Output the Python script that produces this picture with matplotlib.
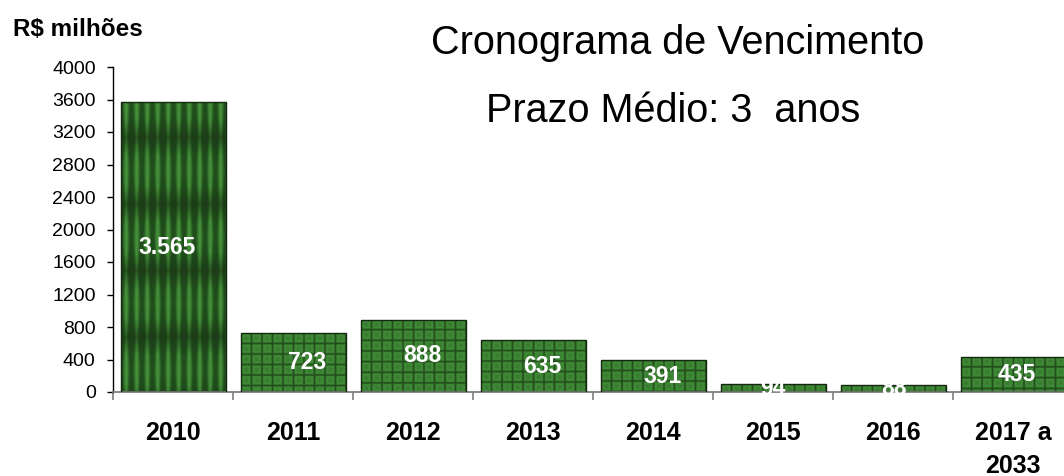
import numpy as np
import matplotlib
matplotlib.use("Agg")
import matplotlib.pyplot as plt
from matplotlib.colors import to_rgb

plt.rcParams['font.family'] = ['Liberation Sans', 'DejaVu Sans']

categories = ["2010", "2011", "2012", "2013", "2014", "2015", "2016", "2017 a\n2033"]
values = [3565, 723, 888, 635, 391, 94, 88, 435]
value_labels = ["3.565", "723", "888", "635", "391", "94", "88", "435"]
yticks = list(range(0, 4001, 400))
title_1 = "Cronograma de Vencimento"
title_2 = "Prazo Médio: 3  anos"
unit_label = "R$ milhões"

# small horizontal offsets (points) of the value labels, as in the reference
label_dx = [-4, 10, 7, 7, 7, 0, 1, 3]

fig = plt.figure(figsize=(10.64, 4.76), dpi=100)
ax = fig.add_axes([113 / 1064, 84 / 476, 960 / 1064, 325 / 476])

x = np.arange(len(categories))
bars = ax.bar(x, values, width=0.875, color='none', edgecolor='#14280f',
              linewidth=1.0, zorder=3)

dark = np.array(to_rgb('#1f4c1b'))
light = np.array(to_rgb('#46913b'))
band_dark = np.array(to_rgb('#1c3d17'))
tile_border = np.array(to_rgb('#21491b'))
tile_light = np.array(to_rgb('#3f8a36'))
tile_mid = np.array(to_rgb('#387b30'))

px_per_unit = 325 / 4000.0  # vertical pixels per data unit


def stripe_texture(h):
    ny, nx = 600, 420
    xs = (np.arange(nx) + 0.5) / nx
    ys = (np.arange(ny) + 0.5) / ny  # 0 at top
    X, Y = np.meshgrid(xs, ys)
    u = (X * 10) % 1.0
    f = 1 - Y  # fraction of bar height from bottom
    band = np.abs(((f - 0.19) / 0.229 + 0.5) % 1.0 - 0.5)  # 0 at band centre
    bandf = np.clip(band / 0.5, 0, 1)
    width = 0.25 + 0.2 * bandf
    s = np.clip(1 - np.abs(u - 0.5) / width, 0, 1)
    s = 0.5 - 0.5 * np.cos(np.pi * s)
    bb = np.clip(bandf * 1.8, 0, 1)
    bright = 0.3 + 0.7 * bb
    t = (s * bright)[..., None]
    base = dark + (band_dark - dark) * (1 - bb)[..., None]
    img = base + (light - base) * t
    return np.clip(img, 0, 1)


def tile_texture(h, w_px):
    h_px = max(int(round(h * px_per_unit)), 2)
    scale = 4
    ny, nx = h_px * scale, int(w_px * scale)
    xs = (np.arange(nx) + 0.5) / nx
    ys = (np.arange(ny) + 0.5) / scale  # pixels from top
    X, Y = np.meshgrid(xs, ys)
    u = (X * 10) % 1.0
    v = (Y / 10.5) % 1.0
    d = np.maximum(np.abs(u - 0.5), np.abs(v - 0.5))
    img = np.empty(d.shape + (3,))
    t_border = np.clip((d - 0.37) / 0.1, 0, 1)[..., None]
    t_inner = np.clip((0.25 - d) / 0.15, 0, 1)[..., None]
    col = tile_light + (tile_border - tile_light) * t_border
    col = col + (tile_mid - col) * t_inner
    img[:] = col
    return np.clip(img, 0, 1)


for i, rect in enumerate(bars.patches):
    x0, w, h = rect.get_x(), rect.get_width(), rect.get_height()
    if i == 0:
        img = stripe_texture(h)
    else:
        img = tile_texture(h, w * 120)
    im = ax.imshow(img, extent=[x0, x0 + w, 0, h], origin='upper',
                   aspect='auto', interpolation='bilinear', zorder=2)
    im.set_clip_path(rect)

for i, (v, lab) in enumerate(zip(values, value_labels)):
    ax.annotate(lab, xy=(x[i], v / 2.0), xytext=(label_dx[i], 0),
                textcoords='offset points', ha='center', va='center',
                color='white', fontsize=16.5, fontweight='bold', zorder=5)

ax.set_xlim(-0.5, len(categories) - 0.5)
ax.set_ylim(0, 4000)
ax.set_aspect('auto')
ax.set_yticks(yticks)
ax.set_yticklabels([str(t) for t in yticks], fontsize=14)
ax.set_xticks(x)
ax.set_xticklabels(categories, fontsize=18, fontweight='bold', linespacing=1.45)
ax.set_xticks(np.arange(-0.5, len(categories)), minor=True)
ax.tick_params(axis='x', which='major', length=0, pad=21)
ax.tick_params(axis='x', which='minor', length=6, width=1.2, color='#7f7f7f',
               direction='out')
ax.tick_params(axis='y', length=4.5, width=1, color='black', pad=8)
for s in ['top', 'right']:
    ax.spines[s].set_visible(False)
ax.spines['left'].set_color('black')
ax.spines['left'].set_linewidth(1.0)
ax.spines['bottom'].set_color('#7f7f7f')
ax.spines['bottom'].set_linewidth(1.3)
ax.set_facecolor('white')
ax.patch.set_alpha(0)

fig.text(678 / 1064, (476 - 54) / 476, title_1, ha='center', va='baseline',
         fontsize=28.5)
fig.text(673 / 1064, (476 - 122) / 476, title_2, ha='center', va='baseline',
         fontsize=28.5)
fig.text(13 / 1064, (476 - 36) / 476, unit_label, ha='left', va='baseline',
         fontsize=17.5, fontweight='bold')

fig.savefig('out.png', dpi=100, facecolor='white')
